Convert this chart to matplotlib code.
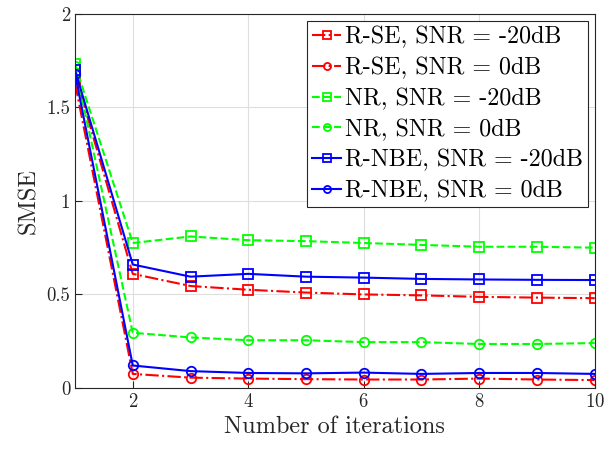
import matplotlib.pyplot as plt
import numpy as np

plt.rcParams.update({'font.family': 'cmr10', 'mathtext.fontset': 'cm',
                     'axes.unicode_minus': False, 'axes.formatter.use_mathtext': True})

iters = np.arange(1, 11)
rse_m20 = [1.68, 0.61, 0.545, 0.525, 0.51, 0.50, 0.495, 0.487, 0.483, 0.48]
rse_0 = [1.63, 0.075, 0.055, 0.05, 0.047, 0.045, 0.045, 0.05, 0.045, 0.042]
nr_m20 = [1.73, 0.775, 0.81, 0.79, 0.785, 0.775, 0.765, 0.755, 0.755, 0.75]
nr_0 = [1.72, 0.295, 0.27, 0.255, 0.255, 0.245, 0.245, 0.235, 0.235, 0.24]
rnbe_m20 = [1.70, 0.66, 0.595, 0.61, 0.595, 0.59, 0.583, 0.58, 0.578, 0.577]
rnbe_0 = [1.68, 0.12, 0.09, 0.08, 0.078, 0.082, 0.075, 0.08, 0.08, 0.075]

fig = plt.figure(figsize=(6.05, 4.49), dpi=100)
ax = fig.add_axes([0.124, 0.136, 0.859, 0.833])

kw = dict(linewidth=1.5, markersize=6.8, fillstyle='none', markeredgewidth=1.3)
ax.plot(iters, rse_m20, 'r-.s', label='R-SE, SNR = -20dB', **kw)
ax.plot(iters, rse_0, 'r-.o', label='R-SE, SNR = 0dB', **kw)
ax.plot(iters, nr_m20, '--s', color='#00ff00', label='NR, SNR = -20dB', **kw)
ax.plot(iters, nr_0, '--o', color='#00ff00', label='NR, SNR = 0dB', **kw)
ax.plot(iters, rnbe_m20, 'b-s', label='R-NBE, SNR = -20dB', **kw)
ax.plot(iters, rnbe_0, 'b-o', label='R-NBE, SNR = 0dB', **kw)

ax.set_xlim(1, 10)
ax.set_ylim(0, 2)
ax.set_xticks([2, 4, 6, 8, 10])
ax.set_yticks([0, 0.5, 1, 1.5, 2])
ax.set_yticklabels(['0', '0.5', '1', '1.5', '2'])
ax.tick_params(direction='in', labelsize=13.5, colors='#262626', length=5)
ax.grid(True, color='#dedede', linewidth=0.8)
for s in ax.spines.values():
    s.set_color('#262626')
ax.set_xlabel('Number of iterations', fontsize=17.5, color='#262626')
ax.set_ylabel('SMSE', fontsize=17.5, color='#262626')

leg = ax.legend(loc='upper right', fontsize=17.3, handlelength=1.2, handletextpad=0.15,
                borderpad=0.2, labelspacing=0.36, fancybox=False, edgecolor='#262626',
                framealpha=1, borderaxespad=0.3, markerscale=0.75)
leg.get_frame().set_linewidth(0.8)

plt.savefig('out.png', dpi=100)
